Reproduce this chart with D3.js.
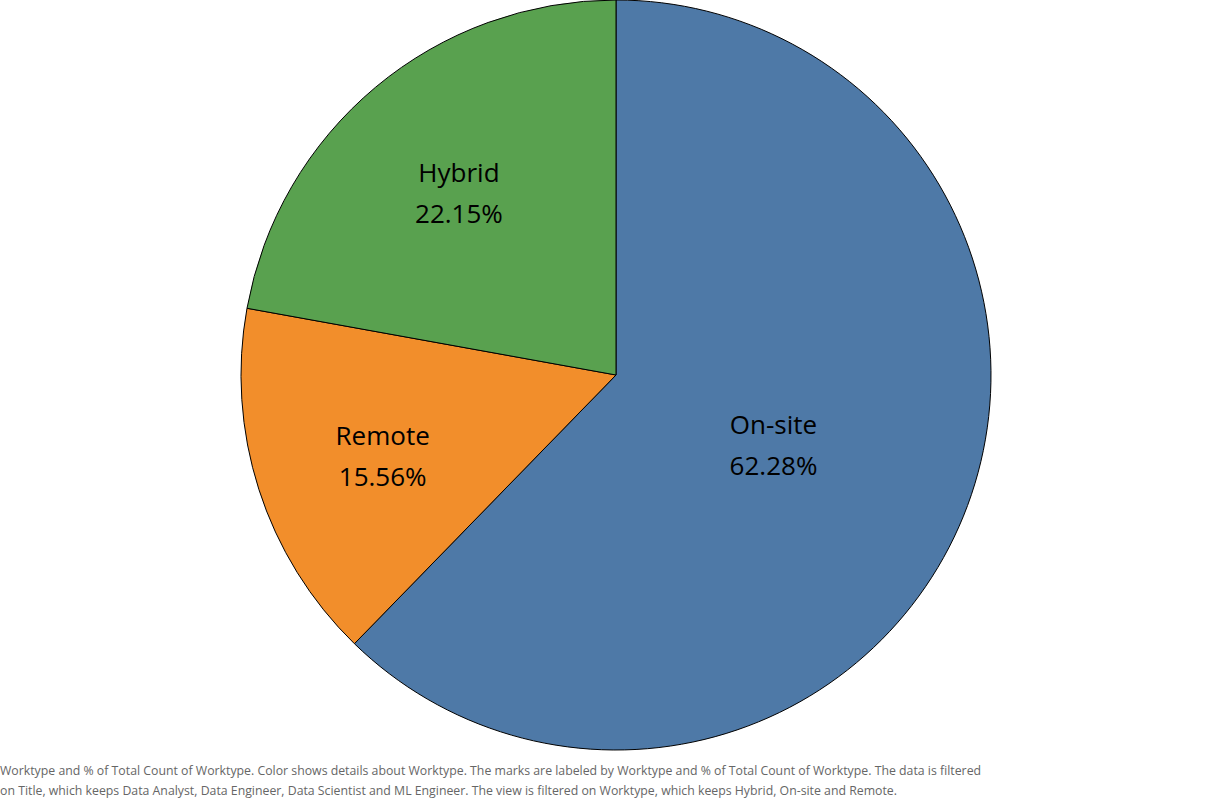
<!DOCTYPE html>
<html><head><meta charset="utf-8">
<script src="https://cdn.jsdelivr.net/npm/d3@7"></script>
<style>body{margin:0;background:#fff}</style>
</head><body>
<svg width="1232" height="801"></svg>
<script>
const worktypes = ["On-site", "Remote", "Hybrid"];
const shares = [62.28, 15.56, 22.15];
const colors = ["#4e79a7", "#f28e2b", "#59a14f"];

const svg = d3.select("svg");
const cx = 616, cy = 375, radius = 375;
const data = worktypes.map((w, i) => ({name: w, value: shares[i], color: colors[i]}));

const pie = d3.pie().value(d => d.value).sort(null);
const arc = d3.arc().innerRadius(0).outerRadius(radius);
const g = svg.append("g").attr("transform", `translate(${cx},${cy})`);
const arcs = pie(data);

g.selectAll("path").data(arcs).join("path")
  .attr("d", arc)
  .attr("fill", d => d.data.color)
  .attr("stroke", "#000").attr("stroke-width", 1);

// big slice label sits closer to centre
const labelArc = d => d3.arc().innerRadius(0).outerRadius(d.data.value > 50 ? 340 : 490);
const lab = g.selectAll("text.lab").data(arcs).join("text")
  .attr("class", "lab")
  .attr("transform", d => `translate(${labelArc(d).centroid(d)})`)
  .attr("text-anchor", "middle")
  .attr("font-family", "Open Sans, sans-serif").attr("font-size", 26).attr("fill", "#000");
lab.append("tspan").attr("x", 0).attr("dy", "-0.2em").text(d => d.data.name);
lab.append("tspan").attr("x", 0).attr("dy", "1.6em").text(d => d.data.value.toFixed(2) + "%");

const notes = [
  "Worktype and % of Total Count of Worktype.  Color shows details about Worktype.  The marks are labeled by Worktype and % of Total Count of Worktype. The data is filtered",
  "on Title, which keeps Data Analyst, Data Engineer, Data Scientist and ML Engineer. The view is filtered on Worktype, which keeps Hybrid, On-site and Remote."
];
svg.selectAll("text.note").data(notes).join("text")
  .attr("class", "note")
  .attr("x", 0).attr("y", (d, i) => 775 + i * 20)
  .attr("font-family", "Open Sans, sans-serif").attr("font-size", 12.3).attr("fill", "#666")
  .text(d => d);
</script>
</body></html>
